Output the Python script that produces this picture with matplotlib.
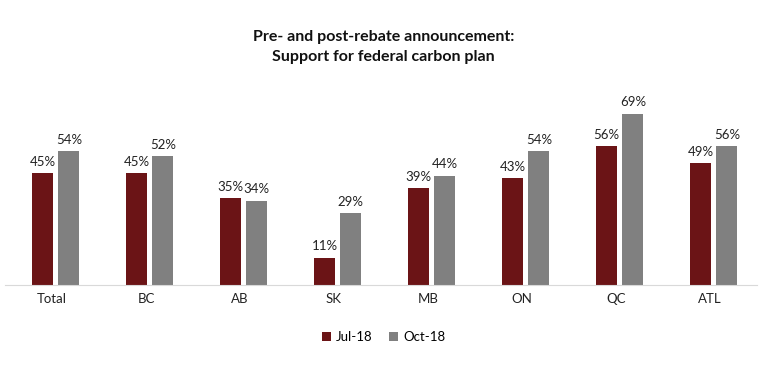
import matplotlib
matplotlib.use("Agg")
import matplotlib.pyplot as plt
import numpy as np

categories = ["Total", "BC", "AB", "SK", "MB", "ON", "QC", "ATL"]
jul18 = [45, 45, 35, 11, 39, 43, 56, 49]
oct18 = [54, 52, 34, 29, 44, 54, 69, 56]
series_names = ["Jul-18", "Oct-18"]
title = "Pre- and post-rebate announcement:\nSupport for federal carbon plan"

plt.rcParams['font.family'] = ['Lato', 'DejaVu Sans']

fig = plt.figure(figsize=(7.67, 3.73), dpi=100)
ax = fig.add_axes([5/767, 0.236, 752/767, 0.532])

x = np.arange(len(categories))
w = 0.225
off = 0.14
c1 = "#6B1416"
c2 = "#808080"
b1 = ax.bar(x - off + 0.04, jul18, w, color=c1, label=series_names[0])
b2 = ax.bar(x + off + 0.04, oct18, w, color=c2, label=series_names[1])

for bars, vals in ((b1, jul18), (b2, oct18)):
    for r, v in zip(bars, vals):
        ax.text(r.get_x() + r.get_width()/2, v + 2.2, f"{v}%", ha="center", va="bottom",
                fontsize=9.5, color="#222222")

ax.set_xlim(-0.5, len(categories) - 0.5)
ax.set_ylim(0, 80)
ax.set_xticks(x)
ax.set_xticklabels(categories, fontsize=9.5, color="#222222")
ax.tick_params(axis="x", length=0, pad=6)
ax.set_yticks([])
for s in ["top", "right", "left"]:
    ax.spines[s].set_visible(False)
ax.spines["bottom"].set_color("#d9d9d9")

fig.text(0.5, 0.875, title, ha="center", va="center", fontsize=11.5, fontweight="bold",
         color="#111111", linespacing=1.55)

fig.legend(handles=[b1, b2], loc="center", bbox_to_anchor=(0.5, 0.097), ncol=2,
           frameon=False, fontsize=9.5, handlelength=0.7, handleheight=0.7,
           handletextpad=0.4, columnspacing=1.2)

fig.savefig("out.png", dpi=100)
